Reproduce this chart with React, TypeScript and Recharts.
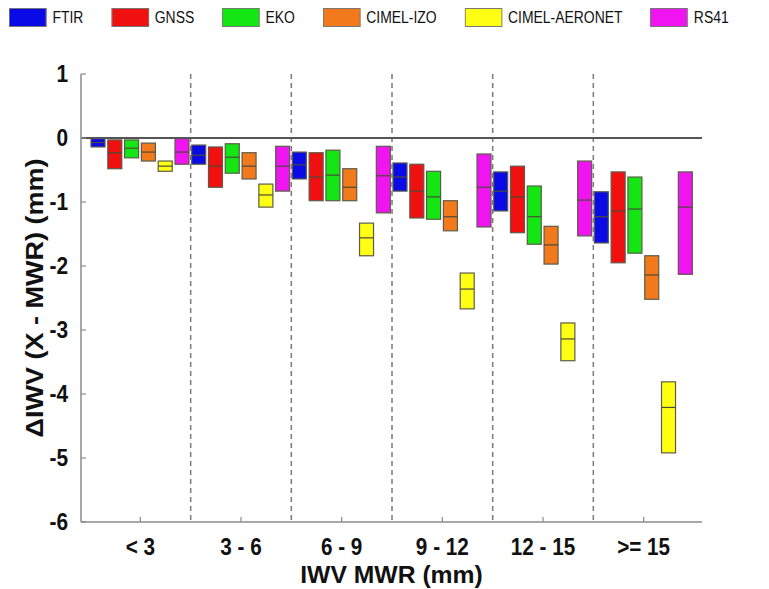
import React from 'react';
import { BarChart, Bar, XAxis, YAxis, ReferenceLine, Label } from 'recharts';

const categories = ['< 3', '3 - 6', '6 - 9', '9 - 12', '12 - 15', '>= 15'];
const seriesNames = ['FTIR', 'GNSS', 'EKO', 'CIMEL-IZO', 'CIMEL-AERONET', 'RS41'];
const seriesColors = ['#0a0ae6', '#f01010', '#14e614', '#f27a1c', '#ffff14', '#f014f0'];
const yTicks = [-6, -5, -4, -3, -2, -1, 0, 1];

// box bottom (25th pct), box top (75th pct), median, one value per IWV class
const ftirLow = [-0.14, -0.41, -0.64, -0.83, -1.14, -1.64];
const ftirHigh = [-0.01, -0.11, -0.22, -0.39, -0.53, -0.84];
const ftirMed = [-0.07, -0.27, -0.42, -0.61, -0.83, -1.23];

const gnssLow = [-0.48, -0.77, -0.98, -1.25, -1.48, -1.95];
const gnssHigh = [-0.03, -0.14, -0.23, -0.41, -0.44, -0.53];
const gnssMed = [-0.23, -0.44, -0.61, -0.83, -0.92, -1.14];

const ekoLow = [-0.31, -0.55, -0.98, -1.27, -1.66, -1.8];
const ekoHigh = [-0.03, -0.09, -0.19, -0.52, -0.75, -0.61];
const ekoMed = [-0.16, -0.3, -0.58, -0.92, -1.23, -1.11];

const izoLow = [-0.36, -0.64, -0.98, -1.45, -1.97, -2.52];
const izoHigh = [-0.08, -0.23, -0.48, -0.98, -1.38, -1.84];
const izoMed = [-0.22, -0.44, -0.77, -1.23, -1.67, -2.14];

const aeronetLow = [-0.52, -1.08, -1.84, -2.67, -3.48, -4.92];
const aeronetHigh = [-0.36, -0.72, -1.33, -2.11, -2.89, -3.81];
const aeronetMed = [-0.44, -0.89, -1.56, -2.36, -3.14, -4.21];

const rs41Low = [-0.41, -0.83, -1.17, -1.39, -1.53, -2.13];
const rs41High = [-0.01, -0.13, -0.13, -0.25, -0.36, -0.53];
const rs41Med = [-0.22, -0.44, -0.59, -0.77, -0.97, -1.08];

const lows = [ftirLow, gnssLow, ekoLow, izoLow, aeronetLow, rs41Low];
const highs = [ftirHigh, gnssHigh, ekoHigh, izoHigh, aeronetHigh, rs41High];
const meds = [ftirMed, gnssMed, ekoMed, izoMed, aeronetMed, rs41Med];

const data = categories.map((cat, i) => {
  const row: Record<string, any> = { cat, pos: i };
  seriesNames.forEach((s, k) => {
    row[s] = [lows[k][i], highs[k][i]];
    row[s + '_med'] = meds[k][i];
  });
  return row;
});

// boundaries between classes on the numeric helper axis (class i sits at pos i)
const boundaries = categories.slice(1).map((_, i) => i + 0.5);

const FONT = '"Liberation Sans", Arial, Helvetica, sans-serif';
const AXIS = '#8a8a8a';
const SQUASH = 0.87;

function BoxShape(props: any) {
  const { x, y, width, height, fill, payload, series } = props;
  const top = Math.min(y, y + height);
  const h = Math.abs(height);
  const [lo, hi] = payload[series];
  const med = payload[series + '_med'];
  const my = top + (h * (hi - med)) / (hi - lo);
  return (
    <g>
      <rect x={x} y={top} width={width} height={h} fill={fill} stroke="#5c5c4a" strokeWidth={1.2} />
      <line x1={x} x2={x + width} y1={my} y2={my} stroke="#4a4a3a" strokeWidth={1.2} />
    </g>
  );
}

function LeftTick({ x, y, payload }: any) {
  return (
    <g>
      <line x1={x + 13} x2={x + 18} y1={y} y2={y} stroke={AXIS} strokeWidth={1.2} />
      <text
        transform={`translate(${x},${y}) scale(${SQUASH},1)`}
        textAnchor="end"
        dominantBaseline="central"
        fontFamily={FONT}
        fontWeight="bold"
        fontSize={24}
        fill="#111"
      >
        {payload.value}
      </text>
    </g>
  );
}

function RightTick({ x, y }: any) {
  return <line x1={x} x2={x - 5} y1={y} y2={y} stroke={AXIS} strokeWidth={1.2} />;
}

function BottomTick({ x, y, payload }: any) {
  return (
    <g>
      <line x1={x} x2={x} y1={y - 25} y2={y - 30} stroke={AXIS} strokeWidth={1.2} />
      <text
        transform={`translate(${x},${y}) scale(0.9,1)`}
        textAnchor="middle"
        dominantBaseline="central"
        fontFamily={FONT}
        fontWeight="bold"
        fontSize={23}
        fill="#111"
      >
        {payload.value}
      </text>
    </g>
  );
}

function Legend() {
  return (
    <div
      style={{
        position: 'absolute',
        left: 9,
        top: 8,
        display: 'flex',
        alignItems: 'center',
        transform: `scaleX(${SQUASH})`,
        transformOrigin: '0 0',
        fontFamily: FONT,
        fontSize: 16,
        color: '#111',
        whiteSpace: 'nowrap',
      }}
    >
      {seriesNames.map((s, k) => (
        <div key={s} style={{ display: 'flex', alignItems: 'center', marginRight: 32 }}>
          <div
            style={{
              width: 43,
              height: 19,
              background: seriesColors[k],
              border: '1px solid #777',
              boxSizing: 'border-box',
              marginRight: 7,
            }}
          />
          <span>{s}</span>
        </div>
      ))}
    </div>
  );
}

export default function App() {
  return (
    <div style={{ position: 'relative', width: 769, height: 589, background: '#fff', fontFamily: FONT }}>
      <style>{'body{margin:0}'}</style>
      <Legend />
      <BarChart
        width={769}
        height={589}
        data={data}
        margin={{ top: 74, right: 67, bottom: 0, left: 0 }}
        barCategoryGap={0}
        barGap={2.8}
      >
        <XAxis
          dataKey="cat"
          type="category"
          orientation="bottom"
          height={67}
          padding={{ left: 9, right: 8 }}
          axisLine={{ stroke: AXIS, strokeWidth: 1.5 }}
          tickLine={false}
          tickSize={0}
          tickMargin={25}
          interval={0}
          tick={<BottomTick />}
        >
          <Label
            content={(p: any) => {
              const vb = p.viewBox;
              const cx = vb.x + vb.width / 2;
              const cy = vb.y + 53;
              return (
                <text
                  transform={`translate(${cx},${cy}) scale(1.03,1)`}
                  textAnchor="middle"
                  dominantBaseline="central"
                  fontFamily={FONT}
                  fontWeight="bold"
                  fontSize={24}
                  fill="#111"
                >
                  IWV MWR (mm)
                </text>
              );
            }}
          />
        </XAxis>
        <XAxis
          xAxisId="num"
          dataKey="pos"
          type="number"
          orientation="top"
          domain={[-0.5, categories.length - 0.5]}
          allowDataOverflow
          height={0}
          padding={{ left: 9, right: 8 }}
          axisLine={{ stroke: AXIS, strokeWidth: 1.5 }}
          tickLine={false}
          tick={false}
        />
        <YAxis
          type="number"
          domain={[-6, 1]}
          ticks={yTicks}
          width={81}
          interval={0}
          axisLine={{ stroke: AXIS, strokeWidth: 1.5 }}
          tickLine={false}
          tickSize={0}
          tickMargin={13}
          tick={<LeftTick />}
        >
          <Label
            content={(p: any) => {
              const vb = p.viewBox;
              const cx = 35;
              const cy = vb.y + vb.height / 2;
              return (
                <text
                  transform={`translate(${cx},${cy}) scale(${SQUASH},1) rotate(-90)`}
                  textAnchor="middle"
                  dominantBaseline="central"
                  fontFamily={FONT}
                  fontWeight="bold"
                  fontSize={27}
                  fill="#111"
                >
                  ΔIWV (X - MWR) (mm)
                </text>
              );
            }}
          />
        </YAxis>
        <YAxis
          yAxisId="r"
          orientation="right"
          type="number"
          domain={[-6, 1]}
          ticks={yTicks}
          width={0}
          interval={0}
          axisLine={{ stroke: AXIS, strokeWidth: 1.5 }}
          tickLine={false}
          tickSize={0}
          tickMargin={0}
          tick={<RightTick />}
        />
        {boundaries.map((b) => (
          <ReferenceLine
            key={b}
            x={b}
            xAxisId="num"
            stroke="#7a7a7a"
            strokeWidth={1.5}
            strokeDasharray="5 4"
          />
        ))}
        {seriesNames.map((s, k) => (
          <Bar
            key={s}
            dataKey={s}
            fill={seriesColors[k]}
            barSize={14}
            isAnimationActive={false}
            shape={(p: any) => <BoxShape {...p} series={s} />}
          />
        ))}
        <ReferenceLine y={0} stroke="#555" strokeWidth={2.2} />
      </BarChart>
    </div>
  );
}
